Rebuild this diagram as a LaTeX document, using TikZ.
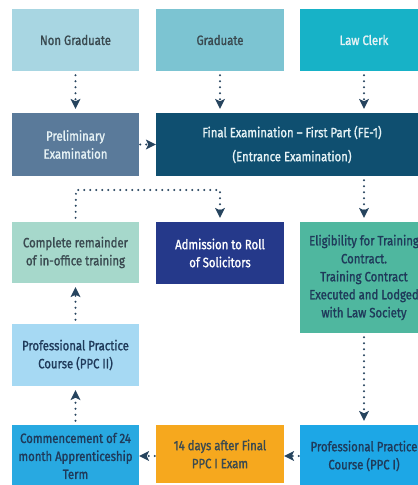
\documentclass[tikz,border=0pt]{standalone}
\usepackage{fontspec}
\setmainfont{Fira Sans}[FakeStretch=0.84,FakeBold=1.3]
\usetikzlibrary{arrows.meta,calc}
\definecolor{cNG}{HTML}{A8D6E2}
\definecolor{cGR}{HTML}{7CC4D2}
\definecolor{cLC}{HTML}{17B2C7}
\definecolor{cPRE}{HTML}{5A7A9A}
\definecolor{cFE}{HTML}{0F4F70}
\definecolor{cCRM}{HTML}{A6D8CB}
\definecolor{cADM}{HTML}{25398A}
\definecolor{cELG}{HTML}{4FB79F}
\definecolor{cPP2}{HTML}{A6D9F3}
\definecolor{cCOM}{HTML}{28A9E1}
\definecolor{cD14}{HTML}{F6A81E}
\definecolor{cPP1}{HTML}{1DA7E6}
\definecolor{tDark}{HTML}{3A4A50}
\definecolor{tNavy}{HTML}{1F3A5A}
\definecolor{tLight}{HTML}{E6F2F5}
\definecolor{cArr}{HTML}{26445E}
\tikzset{
  box/.style={rectangle, inner sep=0pt, align=center, minimum width=127pt,
    minimum height=62pt, font=\fontsize{13.5}{18}\selectfont},
  arr/.style={draw=cArr, line width=2.2pt, line cap=round,
    dash pattern=on 0pt off 6pt,
    -{Stealth[length=10pt,width=10pt,inset=2.5pt,fill=cArr,line width=0pt]}},
}
\begin{document}
\begin{tikzpicture}[x=1pt,y=-1pt]
\useasboundingbox (0,0) rectangle (418,485);
\clip (0,0) rectangle (418,485);
\fill[white] (0,0) rectangle (418,485);
% row 1
\node[box, fill=cNG, text=tDark] (ng) at (75.5,40) {Non Graduate};
\node[box, fill=cGR, text=tDark, minimum width=128pt] (gr) at (220,40) {Graduate};
\node[box, fill=cLC, text=tLight, minimum width=128pt] (lc) at (364,40) {Law Clerk};
% row 2
\node[box, fill=cPRE, text=tLight, minimum height=63pt] (pre) at (75.5,144.5) {Preliminary\\Examination};
\node[box, fill=cFE, text=tLight, minimum height=63pt, minimum width=272pt,
  font=\fontsize{13.5}{24}\selectfont] (fe) at (292,144.5)
  {Final Examination -- First Part (FE-1)\\(Entrance Examination)};
% row 3
\node[box, fill=cCRM, text=tDark, minimum height=61pt] (crm) at (75.5,252.5) {Complete remainder\\of in-office training};
\node[box, fill=cADM, text=white, minimum width=128pt] (adm) at (220,253) {Admission to Roll\\of Solicitors};
\node[box, fill=cELG, text=tNavy, minimum width=128pt, minimum height=111pt] (elg) at (364,277.5)
  {Eligibility for Training\\Contract.\\Training Contract\\Executed and Lodged\\with Law Society};
% row 4
\node[box, fill=cPP2, text=tNavy] (pp2) at (75.5,355) {Professional Practice\\Course (PPC II)};
% row 5
\node[box, fill=cCOM, text=tNavy] (com) at (75.5,456) {Commencement of 24\\month Apprenticeship\\Term};
\node[box, fill=cD14, text=tDark, minimum width=128pt, minimum height=58pt] (d14) at (220,454) {14 days after Final\\PPC I Exam};
\node[box, fill=cPP1, text=tNavy, minimum width=128pt] (pp1) at (364,456) {Professional Practice\\Course (PPC I)};
% connectors
\coordinate (bend) at (76,190);
\draw[arr, shorten <=4pt, shorten >=4pt] (ng) -- (pre);
\draw[arr, shorten <=4pt, shorten >=4pt] (gr.south) -- (gr.south |- fe.north);
\draw[arr, shorten <=4pt, shorten >=4pt] (lc.south) -- (lc.south |- fe.north);
\draw[arr, shorten <=1pt] (pre.east) -- (fe.west |- pre.east);
\draw[arr, shorten <=4pt, shorten >=4pt] (crm.north) -- (bend) -| (adm.north);
\draw[arr, shorten <=4pt, shorten >=4pt] (elg.north |- fe.south) -- (elg.north);
\draw[arr, shorten <=4pt, shorten >=4pt] (elg.south) -- (pp1.north);
\draw[arr, shorten <=1pt] (pp1.west) -- (d14.east |- pp1.west);
\draw[arr, shorten <=1pt] (d14.west |- com.east) -- (com.east);
\draw[arr, shorten <=4pt, shorten >=4pt] (com.north) -- (pp2.south);
\draw[arr, shorten <=4pt, shorten >=4pt] (pp2.north) -- (crm.south);
\end{tikzpicture}
\end{document}
